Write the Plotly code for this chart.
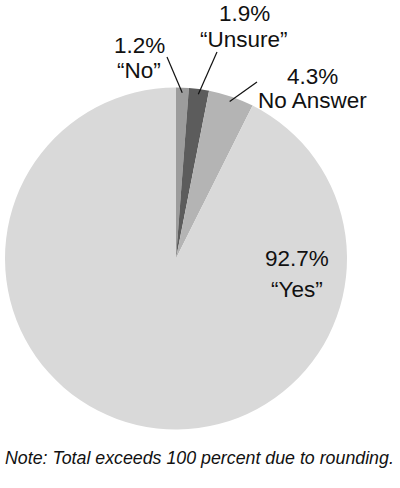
import math
import plotly.graph_objects as go

# survey answers, clockwise from 12 o'clock
labels = ["“No”", "“Unsure”", "No Answer", "“Yes”"]
percents = [1.2, 1.9, 4.3, 92.7]
pct_text = ["1.2%", "1.9%", "4.3%", "92.7%"]
colors = ["#9c9c9c", "#5c5c5c", "#b4b4b4", "#d9d9d9"]

W, H = 400, 488
cx, cy, r = 176, 258.5, 171   # pie centre / radius in pixels


def px(x, y):
    return x / W, 1 - y / H


fig = go.Figure()
dx0, dy0 = px(cx - r, cy + r)
dx1, dy1 = px(cx + r, cy - r)
fig.add_trace(go.Pie(
    labels=labels,
    values=percents,
    sort=False,
    direction="clockwise",
    rotation=0,
    marker=dict(colors=colors, line=dict(width=0)),
    textinfo="none",
    hoverinfo="label+percent",
    showlegend=False,
    domain=dict(x=[dx0, dx1], y=[dy0, dy1]),
))

# label text placement (pixels): percent line, name line
label_pos = [(139, 46, 70), (244, 14, 40), (312, 76, 100), (297, 258, 289)]
# where the leader lines start (None = no leader)
leader_start = [(167, 57), (217, 52), (257, 82), None]

font = dict(family="Liberation Sans, Arial, sans-serif", size=22.5, color="#111")
total = sum(percents)
cum = 0
for i, lab in enumerate(labels):
    x, y1, y2 = label_pos[i]
    for txt, yy in ((pct_text[i], y1), (lab, y2)):
        ax_, ay_ = px(x, yy)
        fig.add_annotation(x=ax_, y=ay_, xref="paper", yref="paper", text=txt,
                           showarrow=False, font=font, xanchor="center", yanchor="middle")
    mid = (cum + percents[i] / 2) / total * 2 * math.pi
    cum += percents[i]
    if leader_start[i]:
        ex = cx + r * 0.97 * math.sin(mid)
        ey = cy - r * 0.97 * math.cos(mid)
        x0, y0 = px(*leader_start[i])
        x1, y1p = px(ex, ey)
        fig.add_shape(type="line", xref="paper", yref="paper", x0=x0, y0=y0, x1=x1, y1=y1p,
                      line=dict(color="#111", width=1.2))

nx, ny = px(199, 458)
fig.add_annotation(x=nx, y=ny, xref="paper", yref="paper",
                   text="<i>Note: Total exceeds 100 percent due to rounding.</i>",
                   showarrow=False, xanchor="center", yanchor="middle",
                   font=dict(family="Liberation Sans, Arial, sans-serif", size=17.8, color="#111"))

fig.update_layout(width=W, height=H, margin=dict(l=0, r=0, t=0, b=0),
                  paper_bgcolor="white", plot_bgcolor="white")

# drop the default page margin so the figure sits at the window's corner
fig.write_html("out.html", config={"displayModeBar": False},
               post_script="document.body.style.margin='0';")
